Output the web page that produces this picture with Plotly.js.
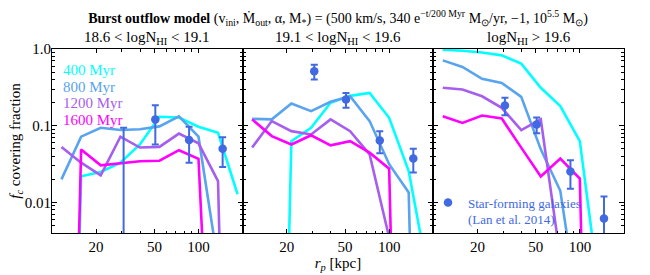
<!DOCTYPE html>
<html><head><meta charset="utf-8">
<script src="https://cdn.plot.ly/plotly-3.0.1.min.js"></script>
<style>html,body{margin:0;padding:0;background:#fff}</style>
</head><body><div id="chart" style="width:650px;height:275px"></div>
<script>
// ---- data ----
const RP_MODEL = [11.6, 15.8, 21.5, 29.3, 39.8, 54.1, 73.5, 99.9, 135.8, 184.6];
const AGES = ['400 Myr', '800 Myr', '1200 Myr', '1600 Myr'];
const PANEL_TITLES = ['18.6 < logN<sub>HI</sub> < 19.1', '19.1 < logN<sub>HI</sub> < 19.6', 'logN<sub>HI</sub> > 19.6'];

// panel 1: 18.6 < logNHI < 19.1
const FC1_400  = [0, 0.022, 0.025, 0.033, 0.057, 0.131, 0.128, 0.097, 0.081, 0.0128];
const FC1_800  = [0.020, 0.072, 0.094, 0.088, 0.090, 0.098, 0.133, 0.072, 0.0016, 0];
const FC1_1200 = [0.053, 0.033, 0.0226, 0.072, 0.052, 0.053, 0.079, 0.059, 0.019, 0];
const FC1_1600 = [0, 0.049, 0.0305, 0.0324, 0.0344, 0.035, 0.048, 0.037, 0, 0];
// panel 2: 19.1 < logNHI < 19.6
const FC2_400  = [0, 0, 0.063, 0.094, 0.199, 0.245, 0.268, 0.127, 0.0257, 0.0011];
const FC2_800  = [0.123, 0.121, 0.195, 0.155, 0.205, 0.242, 0.115, 0.0315, 0.0135, 0];
const FC2_1200 = [0.052, 0.115, 0.085, 0.077, 0.121, 0.085, 0.0424, 0.0035, 0, 0];
const FC2_1600 = [0.121, 0.0733, 0.057, 0.075, 0.0555, 0.063, 0.0446, 0.0276, 0, 0];
// panel 3: logNHI > 19.6
const FC3_400  = [0.98, 0.95, 0.90, 0.826, 0.644, 0.312, 0.18, 0.063, 0.0007, 0];
const FC3_800  = [0.711, 0.584, 0.408, 0.362, 0.238, 0.0492, 0.0142, 0.0003, 0, 0];
const FC3_1200 = [0.312, 0.296, 0.242, 0.171, 0.0877, 0.121, 0.0019, 0, 0, 0];
const FC3_1600 = [0.133, 0.109, 0.136, 0.124, 0.0518, 0.0218, 0.0373, 0.0205, 0, 0];

// Lan et al. 2014 star-forming galaxies
const RP_LAN = [30.8, 50.7, 86.2, 146];
const LAN1 = [0.001, 0.121, 0.065, 0.050];
const LAN1_ERR = [0.093, 0.064, 0.032, 0.021];
const LAN2 = [0.512, 0.22, 0.0644, 0.0373];
const LAN2_ERR = [0.113, 0.048, 0.0206, 0.0127];
const LAN3 = [0.184, 0.104, 0.0253, 0.0062];
const LAN3_ERR = [0.047, 0.024, 0.0102, 0.0058];
const LAN_NAME = 'Star-forming galaxies<br>(Lan et al. 2014)';

const X_TICKS = [20, 50, 100];
const X_MINOR = [10, 30, 40, 60, 70, 80, 90, 200];
const Y_TICKS = [0.01, 0.1, 1];
const Y_TICKTEXT = ['0.01', '0.1', '1.0'];
const Y_MINOR = [0.004,0.005,0.006,0.007,0.008,0.009,0.02,0.03,0.04,0.05,0.06,0.07,0.08,0.09,0.2,0.3,0.4,0.5,0.6,0.7,0.8,0.9];

// ---- style ----
const COLORS = ['#00FFFF', '#58A4EF', '#A65EEE', '#FF00FF'];
const PT_COLOR = '#4169E1';
const FONT = '"Liberation Serif", serif';
const FLOOR = 1e-12; // zero values clipped on log axis (as matplotlib does)
const fl = v => (v > 0 ? v : FLOOR);

const PANELS = [
  {model: [FC1_400, FC1_800, FC1_1200, FC1_1600], lan: LAN1, err: LAN1_ERR},
  {model: [FC2_400, FC2_800, FC2_1200, FC2_1600], lan: LAN2, err: LAN2_ERR},
  {model: [FC3_400, FC3_800, FC3_1200, FC3_1600], lan: LAN3, err: LAN3_ERR}
];

const traces = [];
PANELS.forEach((p, i) => {
  const xa = i === 0 ? 'x' : 'x' + (i + 1);
  const ya = i === 0 ? 'y' : 'y' + (i + 1);
  p.model.forEach((fc, s) => {
    traces.push({
      type: 'scatter', mode: 'lines', x: RP_MODEL, y: fc.map(fl),
      xaxis: xa, yaxis: ya, line: {color: COLORS[s], width: 2.6},
      showlegend: false, hoverinfo: 'skip', name: AGES[s]
    });
  });
  traces.push({
    type: 'scatter', mode: 'markers', x: RP_LAN, y: p.lan.map(fl),
    xaxis: xa, yaxis: ya, name: LAN_NAME, showlegend: i === 2,
    marker: {color: PT_COLOR, size: 8.5},
    error_y: {type: 'data', symmetric: false, array: p.err,
      arrayminus: p.lan.map((v, k) => fl(v) - Math.max(v - p.err[k], FLOOR)),
      color: PT_COLOR, thickness: 2, width: 3.5}
  });
});

const axisBase = {
  type: 'log', showline: true, linecolor: '#000', linewidth: 1, mirror: 'ticks',
  ticks: 'inside', tickcolor: '#000', showgrid: false, zeroline: false,
  tickfont: {family: FONT, size: 15, color: '#000'}
};
const xaxis = (dom) => Object.assign({}, axisBase, {
  domain: dom, range: [1, Math.log10(200)],
  tickmode: 'array', tickvals: X_TICKS, ticktext: X_TICKS.map(String), ticklen: 4,
  minor: {tickmode: 'array', tickvals: X_MINOR, ticks: 'inside', ticklen: 2.5, tickcolor: '#000'}
});
const yaxis = (anchor, labels) => Object.assign({}, axisBase, {
  anchor: anchor, range: [Math.log10(0.004), 0],
  tickmode: 'array', tickvals: Y_TICKS, ticktext: Y_TICKTEXT, ticklen: 5,
  showticklabels: labels, ticklabelstandoff: -3,
  minor: {tickmode: 'array', tickvals: Y_MINOR, ticks: 'inside', ticklen: 3, tickcolor: '#000'}
});

const layout = {
  width: 650, height: 275,
  margin: {l: 52, r: 26, t: 49, b: 42},
  paper_bgcolor: '#fff', plot_bgcolor: '#fff',
  font: {family: FONT, size: 15, color: '#000'},
  title: {
    text: '<b>Burst outflow model</b> (v<sub>ini</sub>, Ṁ<sub>out</sub>, α, M<sub>*</sub>) = (500 km/s, 340 e<sup>−t/200 Myr</sup> M<sub>⊙</sub>/yr, −1, 10<sup>5.5</sup> M<sub>⊙</sub>)',
    font: {family: FONT, size: 14, color: '#000'},
    x: 0.5, xref: 'paper', xanchor: 'center', y: 0.935, yref: 'container', yanchor: 'middle'
  },
  xaxis: xaxis([0, 1/3]),
  xaxis2: Object.assign(xaxis([1/3, 2/3]), {
    anchor: 'y2',
    title: {text: '<i>r</i><sub><i>p</i></sub> [kpc]', font: {family: FONT, size: 15}, standoff: 1}
  }),
  xaxis3: Object.assign(xaxis([2/3, 1]), {anchor: 'y3'}),
  yaxis: Object.assign(yaxis('x', true), {
    title: {text: '<i>f</i><sub><i>c</i></sub> covering fraction', font: {family: FONT, size: 15}, standoff: 0}
  }),
  yaxis2: yaxis('x2', false),
  yaxis3: yaxis('x3', false),
  showlegend: true,
  legend: {
    x: (428 - 52) / 572, y: (233 - 211) / 184, xanchor: 'left', yanchor: 'middle',
    bgcolor: 'rgba(0,0,0,0)', font: {family: FONT, size: 13, color: PT_COLOR},
    valign: 'top', itemwidth: 30, tracegroupgap: 0
  },
  annotations: []
};
PANEL_TITLES.forEach((t, i) => {
  layout.annotations.push({
    text: t, xref: (i === 0 ? 'x' : 'x' + (i + 1)) + ' domain', x: 0.5, xanchor: 'center',
    yref: 'paper', y: 1, yanchor: 'bottom', yshift: 0, showarrow: false,
    font: {family: FONT, size: 15, color: '#000'}
  });
});
AGES.forEach((a, s) => {
  layout.annotations.push({
    text: a, xref: 'x domain', x: 0.045, xanchor: 'left',
    yref: 'y domain', y: [0.886, 0.795, 0.708, 0.614][s], yanchor: 'middle',
    showarrow: false, font: {family: FONT, size: 15, color: COLORS[s]}
  });
});

Plotly.newPlot('chart', traces, layout, {displayModeBar: false, staticPlot: true});
</script></body></html>
